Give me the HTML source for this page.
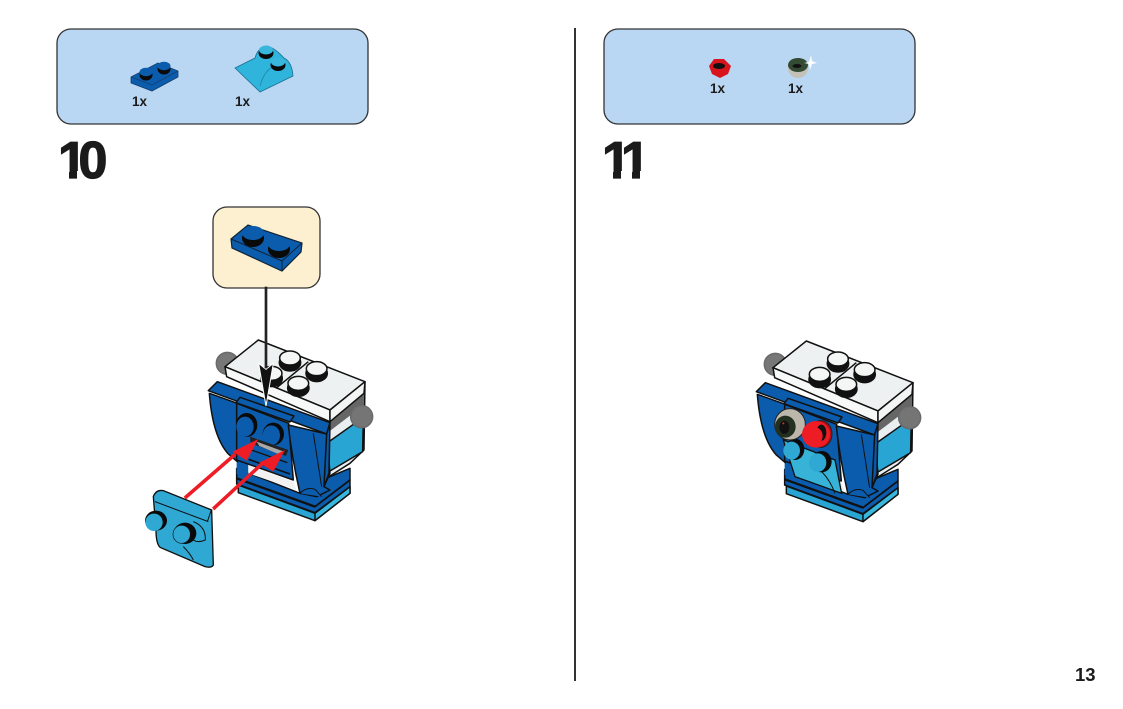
<!DOCTYPE html>
<html>
<head>
<meta charset="utf-8">
<style>
html,body{margin:0;padding:0;background:#fff;width:1123px;height:709px;overflow:hidden}
svg{display:block}
text{font-family:"Liberation Sans",sans-serif;font-weight:700;fill:#1b1b1b}
.big{font-size:52px;stroke:#1b1b1b;stroke-width:1.2px}
</style>
</head>
<body>
<svg width="1123" height="709" viewBox="0 0 1123 709" xmlns="http://www.w3.org/2000/svg">
<defs>
<g id="model" stroke="#111" stroke-width="4.5" stroke-linejoin="round">
  <circle cx="292" cy="100" r="33" fill="#777" stroke="#6a6a6a"/>
  <!-- right side -->
  <polygon points="597,240 705,155 702,360 660,400 597,440" fill="#e9eef0"/>
  <polygon points="597,272 702,190 702,225 597,305" fill="#666" stroke="none"/>
  <polygon points="597,335 700,262 698,365 597,425" fill="#29a5d3"/>
  <circle cx="695" cy="260" r="33" fill="#757575" stroke="#6a6a6a"/>
  <!-- white top -->
  <polygon points="285,110 385,30 705,155 600,240" fill="#eef1f2"/>
  <polygon points="285,110 290,140 600,275 600,240" fill="#f7f8f8"/>
  <polygon points="600,240 705,155 702,190 600,275" fill="#f3f5f5"/>
  <line x1="438" y1="175" x2="535" y2="95"/>
  <ellipse cx="480" cy="98" rx="32" ry="25" fill="#111"/><ellipse cx="480" cy="84" rx="31" ry="21" fill="#f4f6f6"/>
  <ellipse cx="425" cy="145" rx="32" ry="25" fill="#111"/><ellipse cx="425" cy="130" rx="31" ry="21" fill="#f4f6f6"/>
  <ellipse cx="560" cy="130" rx="32" ry="25" fill="#111"/><ellipse cx="560" cy="116" rx="31" ry="21" fill="#f4f6f6"/>
  <ellipse cx="505" cy="174" rx="32" ry="25" fill="#111"/><ellipse cx="505" cy="160" rx="31" ry="21" fill="#f4f6f6"/>
  <!-- base -->
  <polygon points="325,465 555,550 660,470 660,490 555,572 325,488" fill="#29a5d3"/>
  <polygon points="555,550 660,470 660,490 555,572" fill="#37b7de"/>
  <polygon points="320,445 555,530 660,450 660,470 555,548 320,462" fill="#0b5cad"/>
  <polygon points="320,415 510,490 600,440 660,415 660,450 555,530 320,445" fill="#0b5cad"/>
  <polygon points="320,385 355,400 355,445 320,432" fill="#0b5cad" stroke="none"/>
  <polygon points="355,405 490,455 500,480 355,430" fill="#f2f2f2" stroke="none"/>
  <line x1="320" y1="445" x2="555" y2="530" stroke-width="7"/>
  <line x1="555" y1="530" x2="660" y2="450" stroke-width="5"/>
  <!-- body -->
  <polygon points="235,182 262,155 600,278 590,312" fill="#0b5cad"/>
  <path d="M238 190 L322 220 L322 395 L295 372 Q248 320 238 190Z" fill="#0b5cad"/>
  <polygon points="320,220 476,280 490,450 320,390" fill="#0b5cad"/>
  <polygon points="330,202 492,258 480,276 318,218" fill="#0b5cad"/>
  <path d="M475 285 L590 312 L600 430 L582 470 L600 480 L560 500 L510 490 Q485 380 475 285Z" fill="#0b5cad"/>
  <polygon points="590,312 600,278 597,430 582,470" fill="#0a58a8"/>
  <line x1="550" y1="310" x2="575" y2="470" stroke-width="3"/>
  <path d="M510 490 Q530 470 555 478 L575 500" fill="#0b5cad" stroke-width="3"/>
</g>
</defs>

<!-- divider -->
<rect x="574" y="28" width="2" height="653" fill="#333"/>

<!-- panels -->
<rect x="57" y="29" width="311" height="95" rx="14" fill="#b9d7f2" stroke="#333" stroke-width="1.3"/>
<rect x="604" y="29" width="311" height="95" rx="14" fill="#b9d7f2" stroke="#333" stroke-width="1.3"/>

<!-- part 1 -->
<polygon points="131,77 158,63 178,71 178,77 152,91 131,83" fill="#0b5cad" stroke="#14406f" stroke-width=".8"/>
<line x1="131" y1="77" x2="152" y2="85" stroke="#14406f" stroke-width=".8"/>
<line x1="152" y1="85" x2="178" y2="71" stroke="#14406f" stroke-width=".8"/>
<ellipse cx="146" cy="75" rx="6.5" ry="5.5" fill="#0a0a0a"/><ellipse cx="146" cy="72" rx="6.5" ry="4.2" fill="#0b5cad"/>
<ellipse cx="164" cy="69" rx="6.5" ry="5.5" fill="#0a0a0a"/><ellipse cx="164" cy="66" rx="6.5" ry="4.2" fill="#0b5cad"/>

<!-- part 2 -->
<path d="M235 68 L255 58 Q258 47 267 46 Q275 48 284 58 Q292 62 293 76 L260 92 Z" fill="#2fb4dc" stroke="#1d6f8f" stroke-width=".8"/>
<path d="M260 86 Q265 68 276 66" fill="none" stroke="#1d7f9f" stroke-width=".7"/>
<ellipse cx="266" cy="53" rx="7.5" ry="6" fill="#0a0a0a"/><ellipse cx="266" cy="50" rx="7" ry="4.5" fill="#39b6dc"/>
<ellipse cx="278" cy="65" rx="7.5" ry="6" fill="#0a0a0a"/><ellipse cx="278" cy="62" rx="7" ry="4.5" fill="#39b6dc"/>

<!-- right panel parts -->
<polygon points="709,66 714,59 724,59 731,66 728,74 720,78 712,74" fill="#d8141c"/>
<ellipse cx="719" cy="66" rx="6" ry="3" fill="#111"/>
<circle cx="798" cy="68" r="10" fill="#c4c1b8"/>
<ellipse cx="798" cy="65" rx="10" ry="7" fill="#334a33"/>
<ellipse cx="797" cy="66" rx="4.5" ry="2" fill="#111"/>
<polygon points="811,55 812,61 817,63 812,64 810,70 809,64 804,63 809,62" fill="#fff"/>

<text x="132" y="106" font-size="13.5">1x</text>
<text x="235" y="106" font-size="13.5">1x</text>
<text x="710" y="93" font-size="13.5">1x</text>
<text x="788" y="93" font-size="13.5">1x</text>

<!-- step numbers -->
<text class="big" x="58" y="178">1</text>
<rect x="57" y="171" width="12" height="9" fill="#fff"/>
<rect x="77" y="171" width="10" height="9" fill="#fff"/>
<text class="big" x="78.5" y="178">0</text>
<text class="big" x="602" y="178">1</text>
<rect x="601" y="171" width="12" height="9" fill="#fff"/>
<rect x="621" y="171" width="10" height="9" fill="#fff"/>
<text class="big" x="621" y="178">1</text>
<rect x="621" y="171" width="11" height="9" fill="#fff"/>
<rect x="640" y="171" width="10" height="9" fill="#fff"/>
<text x="1075" y="681" font-size="18.5">13</text>

<!-- callout -->
<rect x="213" y="207" width="107" height="81" rx="14" fill="#fdf0d0" stroke="#333" stroke-width="1.3"/>
<polygon points="231,239 248,225 302,243 301,252 282,271 232,248" fill="#0b5cad" stroke="#123" stroke-width="1.2"/>
<polyline points="231,239 282,261 302,243" fill="none" stroke="#123" stroke-width="1"/>
<line x1="282" y1="261" x2="282" y2="271" stroke="#123" stroke-width="1"/>
<ellipse cx="253" cy="238" rx="11" ry="9" fill="#0a0a0a"/><ellipse cx="253" cy="233" rx="11" ry="7" fill="#0b5cad"/>
<ellipse cx="279" cy="249" rx="11" ry="9" fill="#0a0a0a"/><ellipse cx="279" cy="244" rx="11" ry="7" fill="#0b5cad"/>

<!-- step 10 model -->
<g transform="translate(130,330) scale(.3333)">
  <use href="#model"/>
  <ellipse cx="350" cy="285" rx="32" ry="36" fill="#0a0a0a"/>
  <ellipse cx="345" cy="290" rx="26" ry="30" fill="#0b5cad"/>
  <ellipse cx="430" cy="312" rx="32" ry="34" fill="#0a0a0a"/>
  <ellipse cx="424" cy="316" rx="26" ry="30" fill="#0b5cad"/>
  <polygon points="360,320 475,360 468,378 362,340" fill="#222"/>
  <polygon points="380,335 462,365 452,375 388,348" fill="#a9a9a9"/>
  <line x1="358" y1="358" x2="472" y2="398" stroke="#111" stroke-width="4"/>
  <line x1="356" y1="388" x2="480" y2="432" stroke="#111" stroke-width="5"/>
  <!-- black arrow -->
  <polygon points="408,228 386,100 408,118 430,100" fill="#111" stroke="#fff" stroke-width="3"/>
  <rect x="404" y="-130" width="8" height="245" fill="#222"/>
  <!-- plate -->
  <path d="M70 500 Q78 478 100 482 L245 540 L250 705 Q245 715 225 710 L90 652 Q78 640 78 600 Z" fill="#2fa8d4" stroke="#111" stroke-width="4"/>
  <line x1="75" y1="515" x2="235" y2="575" stroke="#111" stroke-width="3"/>
  <line x1="244" y1="540" x2="232" y2="575" stroke="#111" stroke-width="3"/>
  <path d="M160 650 Q180 670 190 690" fill="none" stroke="#111" stroke-width="3"/>
  <ellipse cx="78" cy="572" rx="33" ry="30" fill="#0a0a0a"/>
  <ellipse cx="72" cy="577" rx="26" ry="26" fill="#2fa8d4"/>
  <path d="M190 575 Q228 590 226 630 Q205 640 190 630" fill="#2fa8d4" stroke="#111" stroke-width="3"/>
  <ellipse cx="165" cy="610" rx="34" ry="32" fill="#0a0a0a"/>
  <ellipse cx="155" cy="613" rx="26" ry="27" fill="#2fa8d4" stroke="#111" stroke-width="2"/>
  <!-- red arrows -->
  <g fill="#ee1c25" stroke="none">
    <polygon points="161,500 313,368 320,376 168,508"/>
    <polygon points="246,533 395,395 402,403 253,541"/>
    <polygon points="385,327 308,365 350,392"/>
    <polygon points="465,360 388,398 430,425"/>
  </g>
</g>

<!-- step 11 model -->
<g transform="translate(678,331) scale(.3333)">
  <use href="#model"/>
</g>
<g transform="translate(740,330) scale(.3333)">
  <polygon points="130,330 285,390 305,490 165,440" fill="#37b3d8" stroke="#111" stroke-width="4"/>
  <ellipse cx="165" cy="358" rx="28" ry="32" fill="#0a0a0a"/>
  <ellipse cx="155" cy="362" rx="25" ry="27" fill="#2fa8d4"/>
  <ellipse cx="245" cy="395" rx="30" ry="32" fill="#0a0a0a"/>
  <ellipse cx="233" cy="398" rx="26" ry="28" fill="#2fa8d4"/>
  <path d="M245 425 Q270 450 285 490" fill="none" stroke="#111" stroke-width="3"/>
  <ellipse cx="150" cy="283" rx="46" ry="47" fill="#bdb7ab" stroke="#222" stroke-width="3"/>
  <ellipse cx="136" cy="290" rx="31" ry="33" fill="#23301f"/>
  <ellipse cx="133" cy="292" rx="15" ry="20" fill="#111"/>
  <circle cx="130" cy="280" r="3" fill="#cc3322"/>
  <ellipse cx="242" cy="312" rx="34" ry="40" fill="#b30f14" stroke="#222" stroke-width="3"/>
  <ellipse cx="228" cy="313" rx="42" ry="40" fill="#ee1c25"/>
  <ellipse cx="244" cy="308" rx="15" ry="24" fill="#111"/>
  <ellipse cx="220" cy="318" rx="28" ry="28" fill="#ee1c25"/>
</g>
</svg>
</body>
</html>
